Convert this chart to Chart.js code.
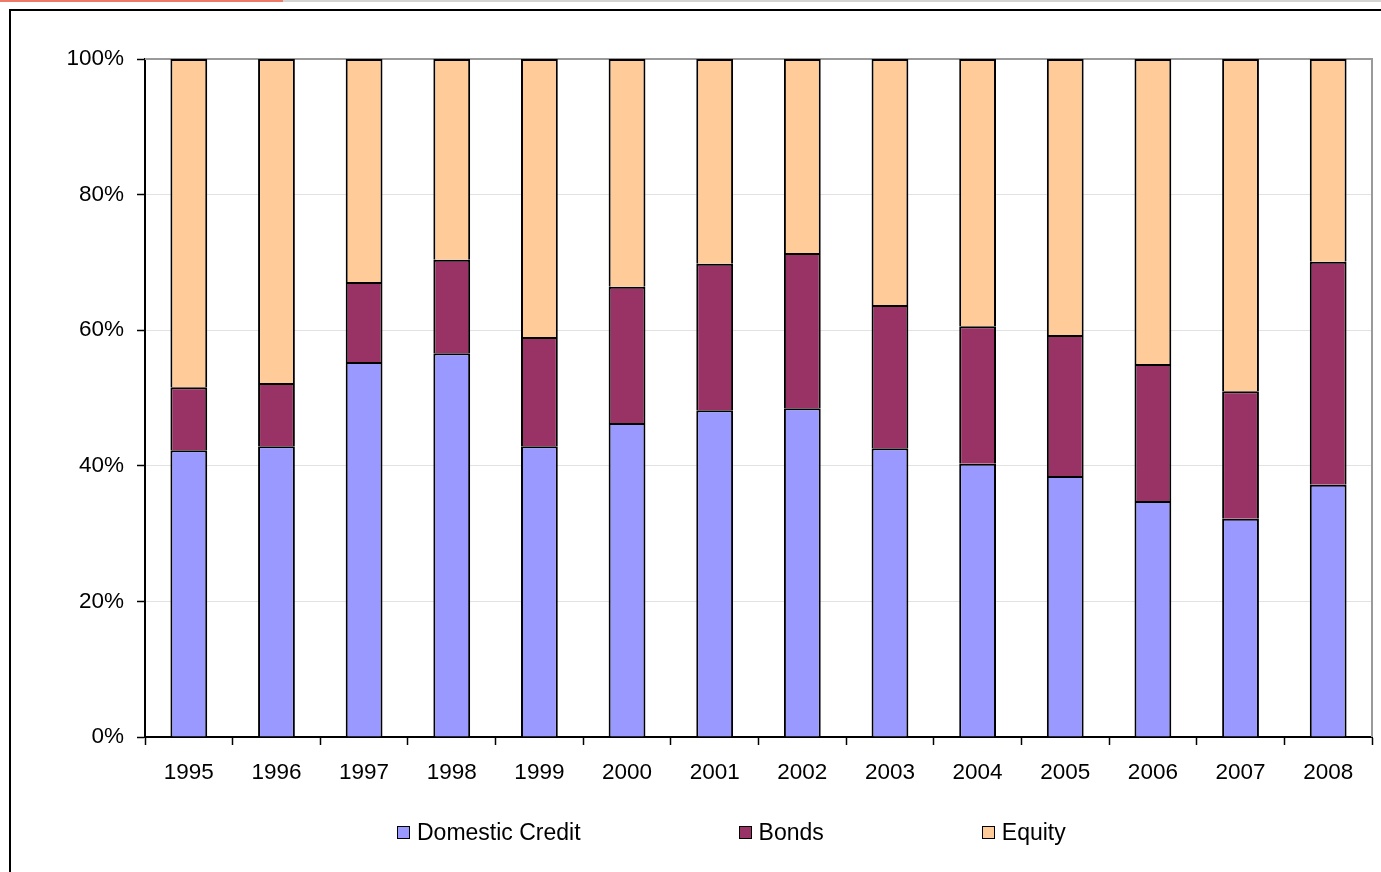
<!DOCTYPE html>
<html>
<head>
<meta charset="utf-8">
<script src="https://cdn.jsdelivr.net/npm/chart.js@4"></script>
<style>
  html, body { margin: 0; padding: 0; background: #fff; overflow: hidden; }
  body { width: 1381px; height: 872px; position: relative; font-family: "Liberation Sans", Arial, sans-serif; }
  #topline { position: absolute; left: 0; top: 0; width: 1381px; height: 2px; background: #d4d4d0; }
  #topline span { display: block; width: 283px; height: 2px; background: #ee7a68; }
  #frame { position: absolute; left: 9px; top: 9px; width: 1400px; height: 900px; border: 2px solid #000; box-sizing: border-box; }
  #wrap { position: absolute; left: 0; top: 0; width: 1381px; height: 872px; }
  #legend { position: absolute; left: 397px; top: 819px; display: flex; align-items: center; font-size: 23px; color: #000; }
  #legend .item { display: flex; align-items: center; }
  #legend .box { width: 11px; height: 11px; border: 1px solid #000; margin-right: 7px; }
</style>
</head>
<body>
<div id="topline"><span></span></div>
<div id="frame"></div>
<div id="wrap"><canvas id="grafico"></canvas></div>
<div id="legend"></div>

<script>
// Datos: participación (%) de cada fuente de financiamiento por año
const anios = ['1995','1996','1997','1998','1999','2000','2001','2002','2003','2004','2005','2006','2007','2008'];
const creditoDomestico = [42.3, 42.9, 55.3, 56.6, 42.9, 46.3, 48.2, 48.5, 42.6, 40.3, 38.5, 34.8, 32.2, 37.2];
const bonos            = [ 9.3,  9.3, 11.8, 13.8, 16.1, 20.1, 21.6, 22.9, 21.1, 20.3, 20.8, 20.2, 18.8, 32.9];
const acciones         = [48.4, 47.8, 32.9, 29.6, 41.0, 33.6, 30.2, 28.6, 36.3, 39.4, 40.7, 45.0, 49.0, 29.9];
const ticksY = [0, 20, 40, 60, 80, 100];

const FUENTE = '"Liberation Sans", Arial, sans-serif';

// Borde gris superior y derecho del área del gráfico
const bordeArea = {
    id: 'bordeArea',
    beforeDatasetsDraw(chart) {
        const a = chart.chartArea;
        const ctx = chart.ctx;
        ctx.save();
        ctx.strokeStyle = '#9a9a9a';
        ctx.lineWidth = 2;
        ctx.beginPath();
        ctx.moveTo(a.left, a.top);
        ctx.lineTo(a.right, a.top);
        ctx.lineTo(a.right, a.bottom);
        ctx.stroke();
        ctx.restore();
    }
};

const series = [
    { label: 'Domestic Credit', data: creditoDomestico, color: '#9999FF' },
    { label: 'Bonds',           data: bonos,            color: '#993366' },
    { label: 'Equity',          data: acciones,         color: '#FFCC99' }
];

const chart = new Chart(document.getElementById('grafico'), {
    type: 'bar',
    data: {
        labels: anios,
        datasets: series.map(s => ({
            label: s.label,
            data: s.data,
            backgroundColor: s.color,
            borderColor: '#000',
            borderWidth: 2,
            barPercentage: 0.42,
            categoryPercentage: 1
        }))
    },
    options: {
        responsive: true,
        maintainAspectRatio: false,
        animation: false,
        layout: { padding: { left: 0, top: 59, right: 9, bottom: 75 } },
        plugins: {
            legend: { display: false },
            tooltip: { enabled: false }
        },
        scales: {
            x: {
                stacked: true,
                afterFit(scale) { scale.height = 60; },
                grid: {
                    drawOnChartArea: false,
                    drawTicks: true,
                    tickLength: 8,
                    tickColor: '#000',
                    tickWidth: 1.5
                },
                border: { display: true, color: '#000', width: 2 },
                ticks: {
                    color: '#000',
                    padding: 14,
                    maxRotation: 0,
                    autoSkip: false,
                    font: { family: FUENTE, size: 22.5 }
                }
            },
            y: {
                stacked: true,
                min: 0,
                max: 100,
                afterFit(scale) { scale.width = 145; },
                afterBuildTicks(scale) { scale.ticks = ticksY.map(v => ({ value: v })); },
                grid: {
                    color: ctx => ctx.tick && ctx.tick.value === 100 ? 'rgba(0,0,0,0)' : '#e2e2e2',
                    lineWidth: 1,
                    tickLength: 8,
                    tickColor: '#000',
                    tickWidth: 1.5
                },
                border: { display: true, color: '#000', width: 2 },
                ticks: {
                    color: '#000',
                    padding: 13,
                    font: { family: FUENTE, size: 22.5 },
                    callback: v => v + '%'
                }
            }
        }
    },
    plugins: [bordeArea]
});

// Leyenda HTML con separación amplia entre elementos
const leyenda = document.getElementById('legend');
chart.data.datasets.forEach((ds, i) => {
    const item = document.createElement('div');
    item.className = 'item';
    if (i > 0) item.style.marginLeft = '158px';
    const caja = document.createElement('span');
    caja.className = 'box';
    caja.style.background = ds.backgroundColor;
    const texto = document.createElement('span');
    texto.textContent = ds.label;
    item.appendChild(caja);
    item.appendChild(texto);
    leyenda.appendChild(item);
});
</script>
</body>
</html>
